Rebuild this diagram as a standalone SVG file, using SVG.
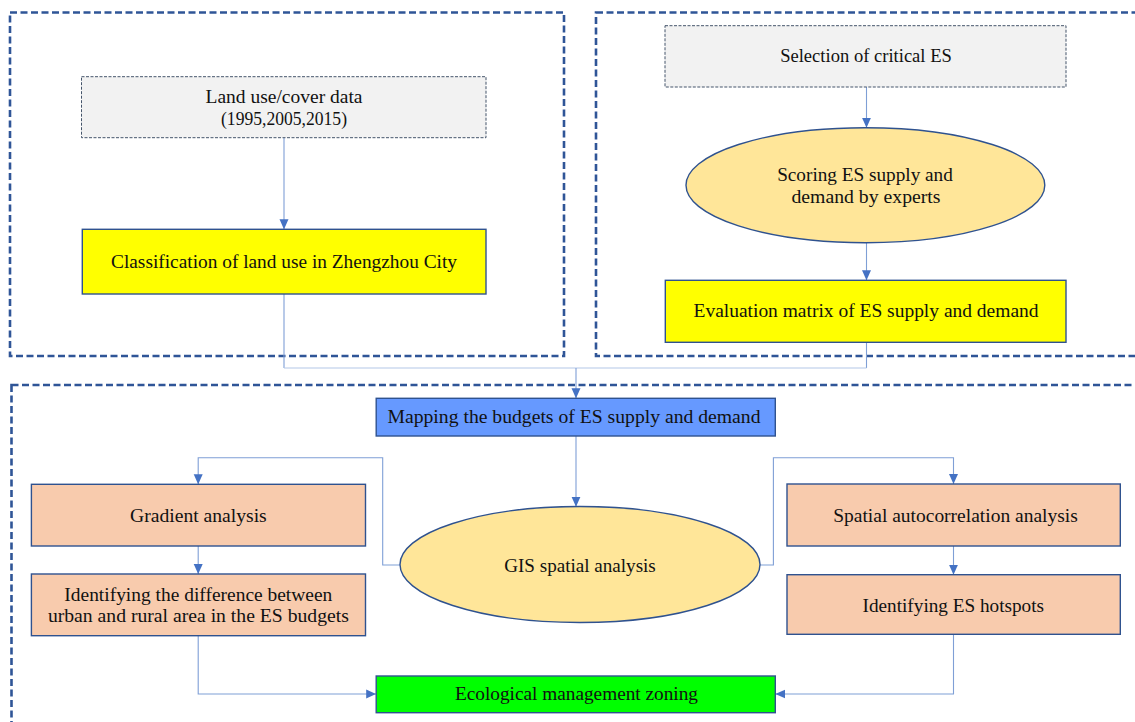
<svg xmlns="http://www.w3.org/2000/svg" width="1135" height="722" viewBox="0 0 1135 722">
<style>
.panel{fill:none;stroke:#2f5597;stroke-width:2.6;stroke-dasharray:7 3.5}
.src{fill:#f2f2f2;stroke:#44546a;stroke-width:1;stroke-dasharray:3 1.5}
.box{stroke:#2f528f;stroke-width:1.4}
.yel{fill:#ffff00}
.org{fill:#f8cbad}
.ell{fill:#ffe699;stroke:#2f528f;stroke-width:1.4}
.blu{fill:#6699ff}
.grn{fill:#00ff00}
.t{font-family:"Liberation Serif","Times New Roman",serif;font-size:18px;fill:#111;text-anchor:middle;dominant-baseline:central}
.c{fill:none;stroke:#7f9fd6;stroke-width:1.1}
.cl{fill:none;stroke:#b4c7e7;stroke-width:1.1}
.a{marker-end:url(#ah)}
</style>
<defs>
<marker id="ah" markerUnits="userSpaceOnUse" markerWidth="10" markerHeight="10" viewBox="0 0 10 10" refX="10" refY="5" orient="auto">
<path d="M0,0.5 L10,5 L0,9.5 Z" fill="#4472c4"/>
</marker>
</defs>
<rect width="1135" height="722" fill="#ffffff"/>
<g id="panels">
<rect class="panel" x="10" y="12.5" width="554" height="343.5"/>
<rect class="panel" x="596" y="12.5" width="560" height="343.5"/>
<rect class="panel" x="11.5" y="385" width="1145" height="360"/>
</g>
<g id="connectors">
<path class="c a" d="M284,137.7 V229.3"/>
<path class="c a" d="M866.5,87 V127.7"/>
<path class="c a" d="M866.5,242.7 V280.3"/>
<path class="c" d="M284,294 V368"/>
<path class="c" d="M866.5,342.3 V368"/>
<path class="cl" d="M284,368 H866.5"/>
<path class="c a" d="M576,368 V398.3"/>
<path class="c a" d="M576,436 V506.7"/>
<path class="c a" d="M400,565 H382.7 V457.7 H198.2 V484.3"/>
<path class="c a" d="M760,565 H773.4 V457.7 H953.5 V484"/>
<path class="c a" d="M198.2,546 V574"/>
<path class="c a" d="M953.5,546 V574.7"/>
<path class="c a" d="M198.2,635.7 V694 H376.2"/>
<path class="c a" d="M953.5,634.3 V694 H775.3"/>
</g>
<g id="n-landuse">
<rect class="src" x="81.5" y="76.7" width="404.5" height="61"/>
<text class="t" x="284" y="97" textLength="157" lengthAdjust="spacingAndGlyphs">Land use/cover data</text>
<text class="t" x="284" y="118.5" textLength="126" lengthAdjust="spacingAndGlyphs">(1995,2005,2015)</text>
</g>
<g id="n-classification">
<rect class="box yel" x="82.3" y="229.3" width="403.7" height="64.7"/>
<text class="t" x="284" y="262" textLength="346" lengthAdjust="spacingAndGlyphs">Classification of land use in Zhengzhou City</text>
</g>
<g id="n-selection">
<rect class="src" x="665" y="25.7" width="401" height="61.3"/>
<text class="t" x="866" y="56" textLength="171.7" lengthAdjust="spacingAndGlyphs">Selection of critical ES</text>
</g>
<g id="n-scoring">
<ellipse class="ell" cx="865.4" cy="185.2" rx="179.4" ry="57.5"/>
<text class="t" x="865" y="175" textLength="175.7" lengthAdjust="spacingAndGlyphs">Scoring ES supply and</text>
<text class="t" x="866" y="196.5" textLength="149" lengthAdjust="spacingAndGlyphs">demand by experts</text>
</g>
<g id="n-evaluation">
<rect class="box yel" x="665.3" y="280.3" width="400.7" height="62"/>
<text class="t" x="866" y="311" textLength="345" lengthAdjust="spacingAndGlyphs">Evaluation matrix of ES supply and demand</text>
</g>
<g id="n-mapping">
<rect class="box blu" x="376.2" y="398.3" width="399.1" height="37.7"/>
<text class="t" x="574" y="417" textLength="373" lengthAdjust="spacingAndGlyphs">Mapping the budgets of ES supply and demand</text>
</g>
<g id="n-gis">
<ellipse class="ell" cx="580" cy="564.5" rx="180" ry="58"/>
<text class="t" x="580" y="566" textLength="151.6" lengthAdjust="spacingAndGlyphs">GIS spatial analysis</text>
</g>
<g id="n-gradient">
<rect class="box org" x="31.4" y="484.3" width="334.1" height="61.7"/>
<text class="t" x="198.4" y="516" textLength="136.7" lengthAdjust="spacingAndGlyphs">Gradient analysis</text>
</g>
<g id="n-difference">
<rect class="box org" x="31.4" y="574" width="334.1" height="61.7"/>
<text class="t" x="198.3" y="594.5" textLength="268" lengthAdjust="spacingAndGlyphs">Identifying the difference between</text>
<text class="t" x="198.4" y="615.5" textLength="301" lengthAdjust="spacingAndGlyphs">urban and rural area in the ES budgets</text>
</g>
<g id="n-autocorrelation">
<rect class="box org" x="787" y="484" width="333.3" height="62"/>
<text class="t" x="955.5" y="516" textLength="244.6" lengthAdjust="spacingAndGlyphs">Spatial autocorrelation analysis</text>
</g>
<g id="n-hotspots">
<rect class="box org" x="787" y="574.7" width="333.3" height="59.6"/>
<text class="t" x="953.3" y="605.5" textLength="181.5" lengthAdjust="spacingAndGlyphs">Identifying ES hotspots</text>
</g>
<g id="n-zoning">
<rect class="box grn" x="376.2" y="676" width="399.1" height="36.7"/>
<text class="t" x="576.5" y="694" textLength="243" lengthAdjust="spacingAndGlyphs">Ecological management zoning</text>
</g>
</svg>
